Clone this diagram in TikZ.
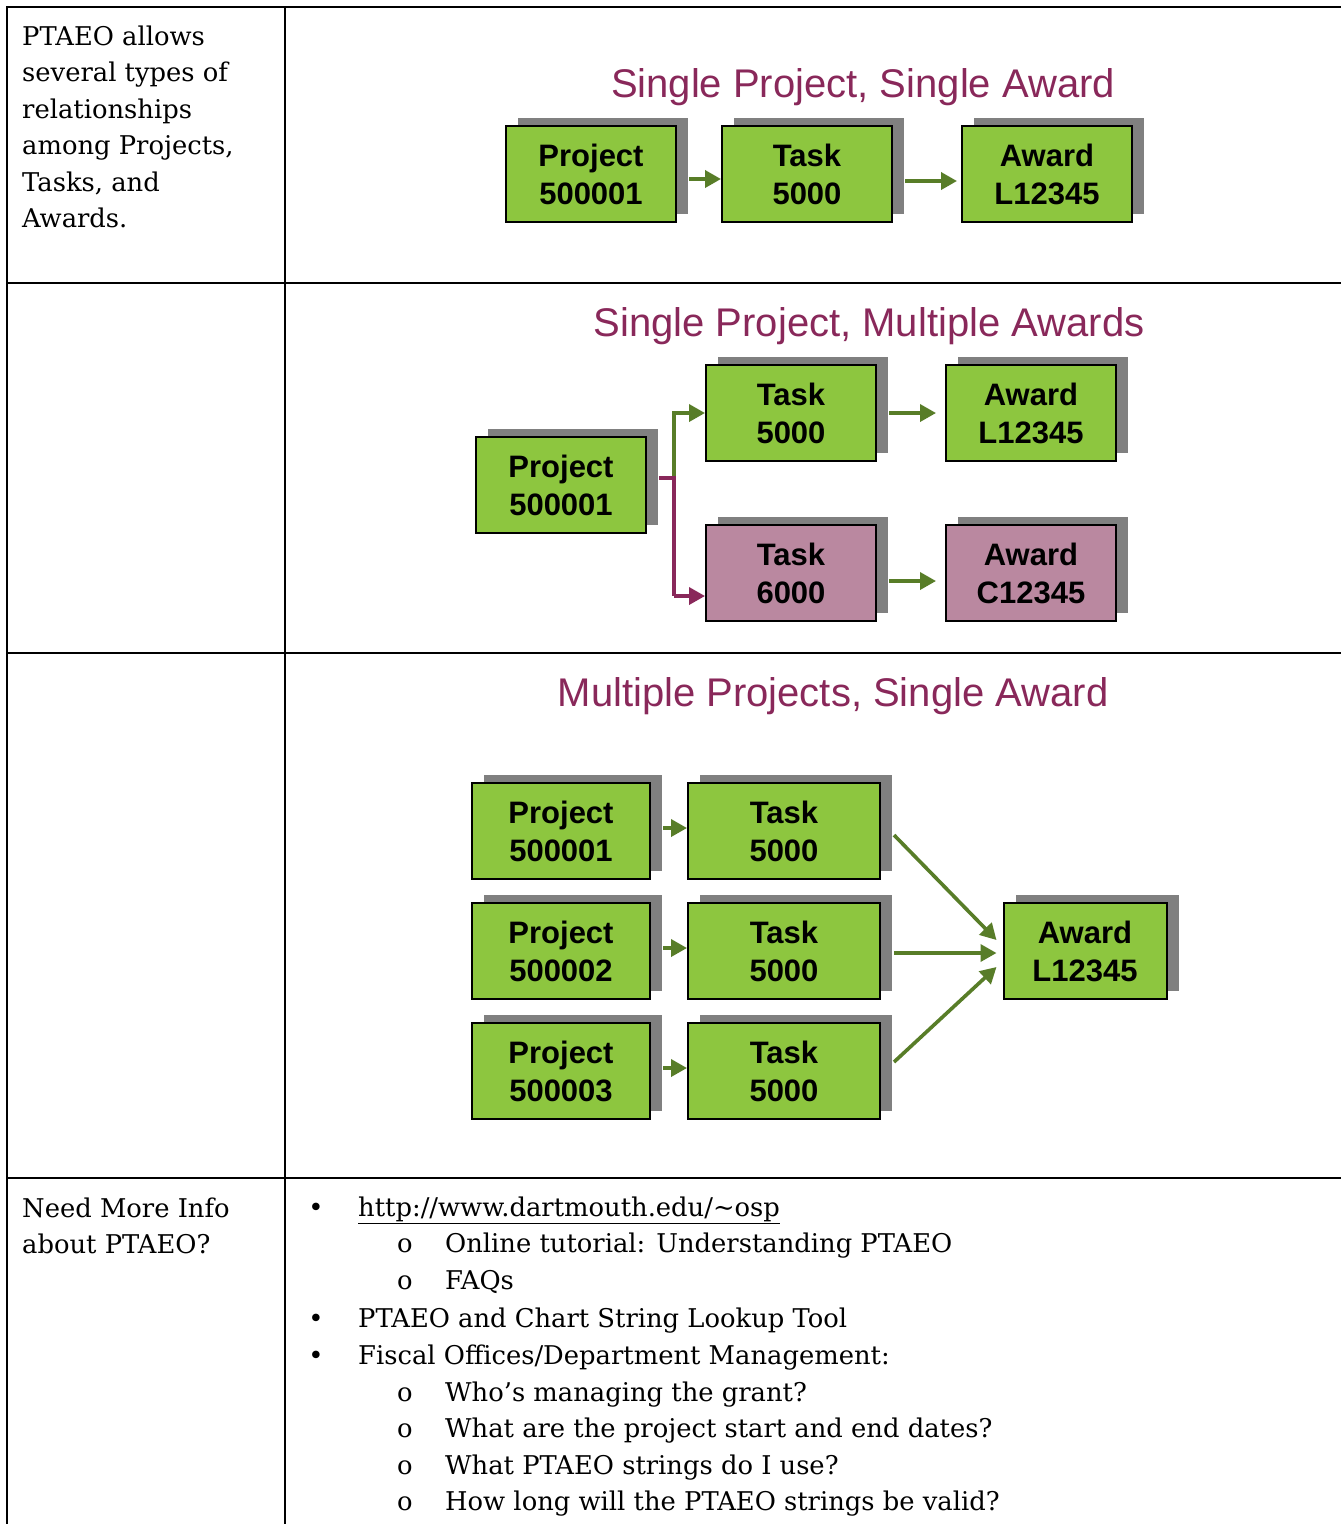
\documentclass[tikz,border=0pt]{standalone}
\usepackage{fontspec}
\setmainfont{DejaVu Serif}
\newfontfamily\boxfont{Liberation Sans}
\usepackage{tikz}
\usetikzlibrary{arrows.meta,positioning,shadows,calc}

\definecolor{boxgreen}{RGB}{141,198,63}
\definecolor{boxpink}{RGB}{186,136,160}
\definecolor{shadowgray}{RGB}{128,128,128}
\definecolor{arrowgreen}{RGB}{88,125,40}
\definecolor{plum}{RGB}{137,40,90}

\begin{document}
\begin{tikzpicture}[x=1pt,y=-1pt,>={Triangle[length=16pt,width=17pt]},
  blk/.style={draw=black, line width=2pt, fill=boxgreen, minimum width=170pt, minimum height=96pt, align=center, inner sep=0pt, font=\boxfont\bfseries\fontsize{31}{38}\selectfont, general shadow={fill=shadowgray, shadow xshift=12pt, shadow yshift=8pt}},
  pinkblk/.style={blk, fill=boxpink},
  ttl/.style={anchor=base, text=plum, font=\boxfont\fontsize{40}{48}\selectfont},
  gline/.style={draw=arrowgreen, line width=3.6pt},
  pline/.style={draw=plum, line width=3.6pt},
  rule/.style={line width=2pt},
  body/.style={anchor=base west, inner sep=0pt, font=\fontsize{25.8}{30}\selectfont}]

  \fill[white] (0,0) rectangle (1341,1524);
  \useasboundingbox (0,0) rectangle (1341,1524);

  % table rules
  \draw[rule] (7,1524) -- (7,7) -- (1341,7);
  \draw[rule] (285,7) -- (285,1524);
  \draw[rule] (7,283) -- (1341,283);
  \draw[rule] (7,653) -- (1341,653);
  \draw[rule] (7,1178) -- (1341,1178);

  % left column
  \foreach \txt [count=\i] in {PTAEO allows, several types of, relationships, {among Projects,}, {Tasks, and}, Awards.}
    \node[body] (intro\i) at (22,{45+36.5*(\i-1)}) {\txt};
  \node[body] (info1) at (22,1217) {Need More Info};
  \node[body] (info2) at (22,1253) {about PTAEO?};

  % single project, single award
  \node[ttl] (ttl1) at (863,97) {Single Project, Single Award};
  \node[blk] (p1) at (591,174) {Project\\500001};
  \node[blk] (t1) at (807,174) {Task\\5000};
  \node[blk] (a1) at (1047,174) {Award\\L12345};
  \draw[gline,->] ([xshift=12pt,yshift=-5pt]p1.east) -- ([yshift=-5pt]t1.west);
  \draw[gline,->] ([xshift=12pt,yshift=-7pt]t1.east) -- ([xshift=-4pt,yshift=-7pt]a1.west);

  % single project, multiple awards
  \node[ttl] (ttl2) at (869,336) {Single Project, Multiple Awards};
  \node[blk] (p2) at (561,485) {Project\\500001};
  \node[blk] (t2a) at (791,413) {Task\\5000};
  \node[blk] (a2a) at (1031,413) {Award\\L12345};
  \node[pinkblk] (t2b) at (791,573) {Task\\6000};
  \node[pinkblk] (a2b) at (1031,573) {Award\\C12345};
  \coordinate (j2) at (674,478);
  \coordinate (k2) at (674,596);
  \draw[gline,->] (j2) |- (t2a.west);
  \draw[pline] ([xshift=12pt,yshift=7pt]p2.east) -- (j2) -- (k2);
  \draw[pline,->] (k2) -- (k2 -| t2b.west);
  \draw[gline,->] ([xshift=12pt]t2a.east) -- ([xshift=-9pt]a2a.west);
  \draw[gline,->] ([xshift=12pt,yshift=-8pt]t2b.east) -- ([xshift=-9pt,yshift=-8pt]a2b.west);

  % multiple projects, single award
  \node[ttl] (ttl3) at (833,706) {Multiple Projects, Single Award};
  \node[blk, minimum width=178pt] (p3a) at (561,831) {Project\\500001};
  \node[blk, minimum width=178pt] (p3b) at (561,951) {Project\\500002};
  \node[blk, minimum width=178pt] (p3c) at (561,1071) {Project\\500003};
  \node[blk, minimum width=192pt] (t3a) at (784,831) {Task\\5000};
  \node[blk, minimum width=192pt] (t3b) at (784,951) {Task\\5000};
  \node[blk, minimum width=192pt] (t3c) at (784,1071) {Task\\5000};
  \node[blk, minimum width=163pt] (a3) at (1085,951) {Award\\L12345};
  \draw[gline,->] ([xshift=12pt,yshift=3pt]p3a.east) -- ([yshift=3pt]t3a.west);
  \draw[gline,->] ([xshift=12pt,yshift=3pt]p3b.east) -- ([yshift=3pt]t3b.west);
  \draw[gline,->] ([xshift=12pt,yshift=3pt]p3c.east) -- ([yshift=3pt]t3c.west);
  \draw[gline,->] ([xshift=13pt,yshift=-4pt]t3a.east) -- ([xshift=-6pt,yshift=11pt]a3.west);
  \draw[gline,->] ([xshift=13pt,yshift=-2pt]t3b.east) -- ([xshift=-6pt,yshift=-2pt]a3.west);
  \draw[gline,->] ([xshift=13pt,yshift=9pt]t3c.east) -- ([xshift=-6pt,yshift=-16pt]a3.west);

  % more info list
  \foreach \yy/\txt [count=\i] in {1216/{\underline{http://www.dartmouth.edu/\textasciitilde osp}}, 1327/{PTAEO and Chart String Lookup Tool}, 1364/{Fiscal Offices/Department Management:}}{
    \node[body, anchor=base] (dot\i) at (316,\yy) {\textbullet};
    \node[body] (item\i) at (358,\yy) {\txt};
  }
  \foreach \yy/\txt [count=\i] in {1252/{Online tutorial: Understanding PTAEO}, 1289/{FAQs}, 1401/{Who’s managing the grant?}, 1437/{What are the project start and end dates?}, 1474/{What PTAEO strings do I use?}, 1510/{How long will the PTAEO strings be valid?}}{
    \node[body, anchor=base] (ring\i) at (405,\yy) {o};
    \node[body] (sub\i) at (445,\yy) {\txt};
  }
\end{tikzpicture}
\end{document}
